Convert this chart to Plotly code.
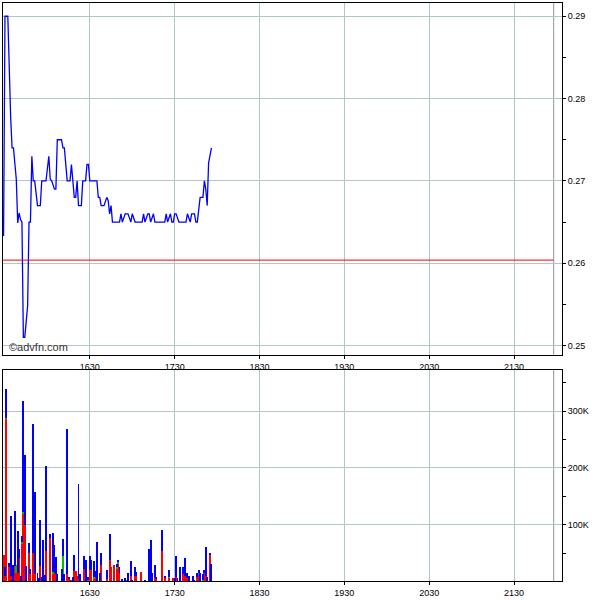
import plotly.graph_objects as go
import pandas as pd

DAY = "2024-01-02 "

# ---- price series (time HH:MM, price) ----
price_times = ["15:29","15:30","15:32","15:33","15:34","15:35","15:36","15:38","15:39","15:40",
               "15:41","15:42","15:43","15:44","15:45","15:46","15:47","15:48","15:49","15:50",
               "15:51","15:53","15:55","15:56","15:59","16:01","16:02","16:03","16:05","16:06",
               "16:07","16:10","16:11","16:12","16:14","16:16","16:17","16:19","16:20","16:21",
               "16:22","16:24","16:25","16:27","16:28","16:29","16:30","16:35","16:36","16:37",
               "16:38","16:40","16:42","16:43","16:44","16:45","16:46","16:51","16:52","16:53",
               "16:55","16:57","16:59","17:00","17:02","17:07","17:08","17:09","17:11","17:12",
               "17:13","17:15","17:16","17:23","17:24","17:25","17:27","17:28","17:29","17:30",
               "17:31","17:33","17:38","17:39","17:41","17:42","17:44","17:45","17:46","17:47",
               "17:48","17:50","17:51","17:52","17:53","17:54","17:56"]
price_values = [0.2633,0.29,0.29,0.282,0.2778,0.274,0.274,0.2702,0.2649,0.2661,
                0.2653,0.265,0.251,0.251,0.2532,0.2548,0.265,0.265,0.273,0.27,
                0.27,0.267,0.267,0.27,0.27,0.273,0.2702,0.27,0.269,0.269,
                0.275,0.275,0.274,0.274,0.27,0.27,0.272,0.268,0.268,0.27,
                0.267,0.267,0.27,0.27,0.272,0.272,0.27,0.27,0.268,0.268,
                0.267,0.267,0.268,0.2676,0.266,0.267,0.265,0.265,0.266,0.265,
                0.266,0.266,0.265,0.266,0.265,0.265,0.266,0.265,0.266,0.266,
                0.265,0.266,0.265,0.265,0.266,0.265,0.266,0.265,0.265,0.266,
                0.266,0.265,0.265,0.266,0.265,0.266,0.266,0.265,0.265,0.267,
                0.268,0.268,0.27,0.269,0.267,0.2722,0.274]

prev_close = 0.26038

# ---- volume (thousands): red bottom, green middle, blue top ----
vol_times = ["15:29","15:30","15:31","15:33","15:34","15:35","15:36","15:37","15:38","15:39",
             "15:40","15:41","15:42","15:43","15:44","15:45","15:47","15:48","15:50","15:51",
             "15:53","15:54","15:55","15:56","15:57","15:58","15:59","16:02","16:04","16:05",
             "16:06","16:07","16:10","16:11","16:12","16:14","16:15","16:17","16:18","16:19",
             "16:20","16:21","16:22","16:23","16:26","16:27","16:28","16:29","16:30","16:31",
             "16:33","16:34","16:35","16:37","16:38","16:42","16:44","16:45","16:47","16:49",
             "16:50","16:51","16:53","16:55","16:56","16:57","16:59","17:00","17:02","17:03",
             "17:06","17:09","17:12","17:13","17:14","17:16","17:17","17:21","17:23","17:26",
             "17:29","17:30","17:31","17:32","17:34","17:36","17:37","17:38","17:39","17:40",
             "17:43","17:44","17:46","17:47","17:48","17:50","17:51","17:52","17:53","17:55",
             "17:56"]
vol_red = [48,10,287,26,10,0,0,27,16,16,
           42,0,68,121,100,0,51,14,50,13,
           0,0,27,0,0,0,54,77,14,16,
           13,0,0,0,0,13,5,4,0,19,
           19,10,5,0,22,0,0,0,20,20,
           5,8,0,0,29,5,39,26,29,22,
           32,15,0,0,0,0,10,0,10,10,
           17,0,0,0,0,8,5,55,7,7,
           6,0,8,0,0,14,10,6,7,0,
           0,0,9,13,0,0,15,10,0,48,
           0]
vol_green = [0,0,1,0,0,0,0,0,14,0,
             0,0,2,2,0,0,0,0,0,0,
             0,0,0,0,0,0,0,0,4,0,
             0,0,0,46,0,0,0,0,0,0,
             0,0,0,0,0,0,8,4,0,0,
             3,0,0,0,0,0,0,0,0,4,
             3,0,0,0,4,2,0,0,0,0,
             0,0,0,0,0,0,0,0,0,2,
             0,0,0,0,0,0,0,0,0,0,
             0,0,0,2,0,4,0,0,0,0,
             0]
vol_blue = [0,16,51,7,106,4,30,98,0,74,
            16,10,11,195,123,27,18,8,228,145,
            16,6,81,9,74,12,150,8,68,49,
            31,14,22,30,14,256,3,0,8,29,
            0,0,168,14,24,39,0,4,25,19,
            28,11,70,16,22,15,45,0,0,6,
            3,11,5,6,0,13,27,4,16,7,
            0,4,57,73,16,21,3,37,3,11,
            0,7,38,6,26,12,32,0,8,11,
            11,2,6,5,15,9,5,52,8,3,
            32]

x_ticks = ["16:30","17:30","18:30","19:30","20:30","21:30"]
session_end = "21:58"
x_start, x_end = "15:28:36", "22:03:54"

def ts(t):
    return pd.to_datetime([DAY + s for s in t]) if isinstance(t, list) else pd.Timestamp(DAY + t)

px = ts(price_times)
vx = ts(vol_times)
tickvals = ts(x_ticks)

fig = go.Figure()
fig.add_trace(go.Scatter(x=px, y=price_values, mode="lines", line=dict(color="#0000ff", width=1.3),
                         xaxis="x", yaxis="y", showlegend=False, hoverinfo="skip"))

bar_w = 40000
for vals, col in [(vol_red, "#ff0000"), (vol_green, "#00c000"), (vol_blue, "#0000ff")]:
    fig.add_trace(go.Bar(x=vx, y=[v * 1000 for v in vals], marker=dict(color=col, line=dict(width=0)),
                         width=bar_w, xaxis="x2", yaxis="y2", showlegend=False, hoverinfo="skip"))

font = dict(family="Liberation Sans, Arial, sans-serif", size=9, color="#000000")
grid = "#b2c6c6"
xcommon = dict(type="date", range=[ts(x_start), ts(x_end)], tickvals=tickvals, tickformat="%H%M",
               showgrid=True, gridcolor=grid, gridwidth=1, ticks="outside", ticklen=3, tickcolor="#000",
               showline=True, linecolor="#000", linewidth=1, mirror=True, tickfont=font,
               zeroline=False, fixedrange=True)

fig.update_layout(
    width=600, height=600, margin=dict(l=2, r=38, t=3, b=17),
    paper_bgcolor="#ffffff", plot_bgcolor="#ffffff", barmode="stack", bargap=0,
    xaxis=dict(**xcommon, domain=[0, 1], anchor="y"),
    xaxis2=dict(**xcommon, domain=[0, 1], anchor="y2", matches="x"),
    yaxis=dict(domain=[0.3914, 1], range=[0.24888, 0.29161], side="right", dtick=0.01, tick0=0.25,
               tickformat=".2f", showgrid=True, gridcolor=grid, ticks="outside", ticklen=3,
               tickcolor="#000", showline=True, linecolor="#000", linewidth=1, mirror=True,
               tickfont=font, zeroline=False, anchor="x", fixedrange=True,
               minor=dict(dtick=0.005, tick0=0.25, ticks="outside", ticklen=3, tickcolor="#000", showgrid=False)),
    yaxis2=dict(domain=[0, 0.3655], range=[1000, 373000], side="right",
                tickvals=[100000, 200000, 300000], ticktext=["100K", "200K", "300K"],
                showgrid=True, gridcolor=grid, ticks="outside", ticklen=3, tickcolor="#000",
                showline=True, linecolor="#000", linewidth=1, mirror=True, tickfont=font,
                zeroline=False, anchor="x2", fixedrange=True,
                minor=dict(tickvals=[50000, 150000, 250000, 350000], ticks="outside", ticklen=3,
                           tickcolor="#000", showgrid=False)),
)

# previous close line and session end marker
fig.add_shape(type="line", xref="x", yref="y", x0=ts(x_start), x1=ts(session_end), y0=prev_close, y1=prev_close,
              line=dict(color="#ff0000", width=1))
for ya in ["y domain", "y2 domain"]:
    xr = "x" if ya.startswith("y ") else "x2"
    fig.add_shape(type="line", xref=xr, yref=ya, x0=ts(session_end), x1=ts(session_end), y0=0, y1=1,
                  line=dict(color="#8e9a9a", width=1), layer="below")

fig.add_annotation(text="©advfn.com", xref="paper", yref="paper", x=0.007, y=0.4052,
                   xanchor="left", yanchor="middle", showarrow=False,
                   font=dict(family="Liberation Sans, Arial, sans-serif", size=11, color="#333333"))

fig.write_html("out.html", config={"displayModeBar": False},
               post_script="document.body.style.margin='0px';document.body.style.padding='0px';")
